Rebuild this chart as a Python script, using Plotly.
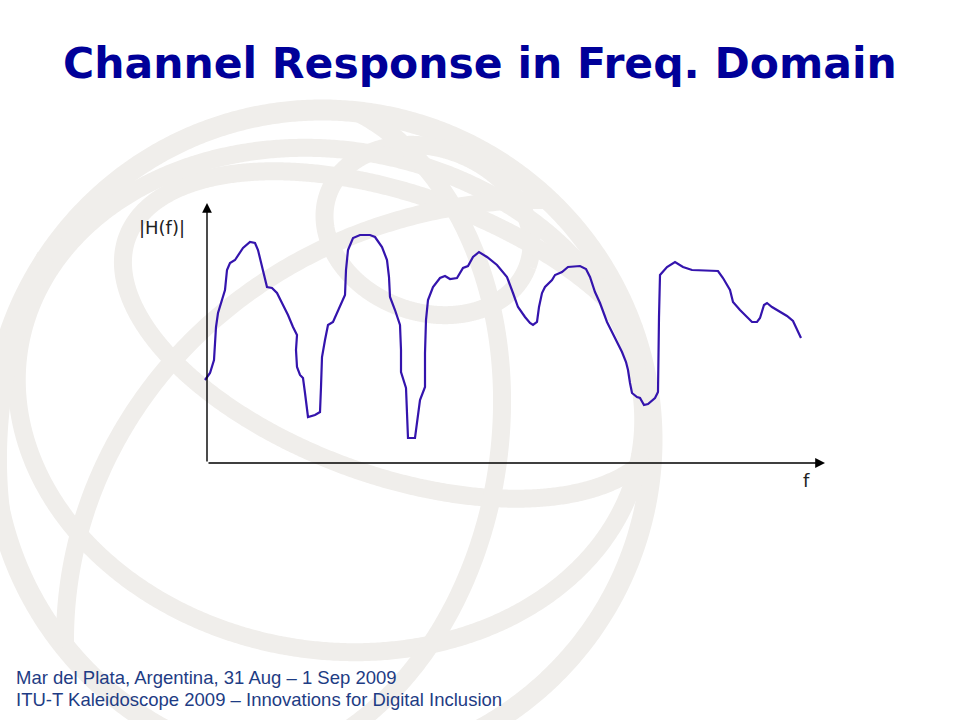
import numpy as np
import plotly.graph_objects as go

W, H = 960, 720

# ---- data (arbitrary units: f along x, |H(f)| along y) ----
f_vals = [-2, 3, 7, 9, 11, 18, 20, 23, 28, 36, 43, 48, 51, 55, 60, 65, 70, 75, 81, 86,
          90, 89, 90, 93, 96, 98, 101, 108, 113, 114, 115, 118, 121, 126, 130, 135, 138, 139, 141, 146,
          153, 163, 168, 175, 180, 182, 183, 188, 193, 194, 194, 199, 201, 208, 210, 213, 218, 218, 219, 221,
          226, 233, 238, 243, 250, 256, 261, 266, 272, 280, 290, 300, 306, 311, 318, 323, 326, 330, 332, 335,
          338, 345, 348, 355, 361, 373, 379, 383, 388, 393, 400, 408, 415, 419, 421, 423, 425, 430, 433, 437,
          441, 448, 451, 452, 453, 460, 468, 476, 485, 511, 516, 523, 526, 533, 540, 545, 550, 553, 557, 560,
          565, 573, 580, 586, 590, 594]
h_vals = [83, 90, 103, 136, 150, 173, 193, 200, 203, 215, 221, 220, 213, 196, 176, 175, 170, 160, 148, 136,
          128, 113, 96, 88, 85, 70, 46, 48, 51, 76, 106, 123, 138, 141, 150, 163, 168, 193, 213, 225,
          228, 228, 226, 216, 203, 186, 166, 153, 138, 113, 91, 75, 25, 25, 41, 63, 76, 110, 143, 163,
          176, 185, 187, 184, 185, 195, 197, 206, 211, 206, 198, 186, 170, 156, 146, 140, 138, 141, 156, 170,
          176, 183, 188, 191, 196, 197, 194, 186, 171, 160, 141, 125, 111, 101, 93, 80, 70, 66, 65, 58,
          59, 65, 71, 146, 188, 196, 201, 196, 193, 192, 185, 173, 161, 153, 146, 141, 141, 145, 158, 160,
          156, 151, 147, 142, 133, 125]

title_text = "Channel Response in Freq. Domain"
y_label = "|H(f)|"
x_label = "f"
footer_lines = ["Mar del Plata, Argentina, 31 Aug \u2013 1 Sep 2009",
                "ITU-T Kaleidoscope 2009 \u2013 Innovations for Digital Inclusion"]

# ---- layout geometry (pixels) ----
X0, Y0 = 207, 463          # axis origin
X_MIN, X_MAX = -10, 620
Y_MIN, Y_MAX = 0, 260

fig = go.Figure()

fig.add_trace(go.Scatter(x=f_vals, y=h_vals, mode="lines",
                         line=dict(color="#3414ad", width=2.2),
                         hoverinfo="skip", showlegend=False))

# ---- background globe decoration ----
BAND = "#f0eeeb"
CX, CY, R = 322, 440, 330


def to_paper(xs, ys):
    return xs / W, 1 - ys / H


def ellipse_path(cx, cy, a, b, rot, clip=True):
    t = np.linspace(0, 2 * np.pi, 900)
    th = np.deg2rad(rot)
    x = cx + a * np.cos(t) * np.cos(th) - b * np.sin(t) * np.sin(th)
    y = cy + a * np.cos(t) * np.sin(th) + b * np.sin(t) * np.cos(th)
    if clip:
        inside = (x - CX) ** 2 + (y - CY) ** 2 <= (R + 2) ** 2
    else:
        inside = np.ones_like(x, dtype=bool)
    px, py = to_paper(x, y)
    parts = []
    started = False
    for i in range(len(x)):
        if inside[i]:
            parts.append(("L" if started else "M") + f"{px[i]:.5f},{py[i]:.5f}")
            started = True
        else:
            started = False
    return " ".join(parts)


shapes = []
ellipses = [
    (CX, CY, R, R, 0, False, 21),
    (428, 230, 106, 82, 20, True, 18),
    (395, 335, 285, 140, 20, True, 18),
    (330, 400, 315, 250, 10, True, 18),
    (250, 430, 250, 340, 8, True, 18),
    (540, 640, 475, 440, 0, True, 18),
]
for cx, cy, a, b, rot, clip, w in ellipses:
    shapes.append(dict(type="path", path=ellipse_path(cx, cy, a, b, rot, clip),
                       xref="paper", yref="paper", layer="below",
                       line=dict(color=BAND, width=w)))

annotations = []
# axes with arrowheads
annotations.append(dict(x=618, y=0, ax=0, ay=0, xref="x", yref="y", axref="x", ayref="y",
                        text="", showarrow=True, arrowhead=2, arrowsize=1.4,
                        arrowwidth=1.4, arrowcolor="#000000"))
annotations.append(dict(x=0, y=260, ax=0, ay=0, xref="x", yref="y", axref="x", ayref="y",
                        text="", showarrow=True, arrowhead=2, arrowsize=1.4,
                        arrowwidth=1.4, arrowcolor="#000000"))
annotations.append(dict(x=162 / W, y=1 - 227 / H, xref="paper", yref="paper",
                        xanchor="center", yanchor="middle",
                        text=y_label, showarrow=False,
                        font=dict(family="DejaVu Sans", size=18, color="#222222")))
annotations.append(dict(x=806 / W, y=1 - 481 / H, xref="paper", yref="paper",
                        xanchor="center", yanchor="middle",
                        text=x_label, showarrow=False,
                        font=dict(family="DejaVu Sans", size=18, color="#222222")))
annotations.append(dict(x=0.5, y=1 - 63 / H, xref="paper", yref="paper",
                        xanchor="center", yanchor="middle",
                        text="<b>" + title_text + "</b>", showarrow=False,
                        font=dict(family="DejaVu Sans", size=42.5, color="#000099")))
for i, line in enumerate(footer_lines):
    annotations.append(dict(x=14 / W, y=1 - (677 + 22 * i) / H, xref="paper", yref="paper",
                            xanchor="left", yanchor="middle", text=line, showarrow=False,
                            font=dict(family="Liberation Sans", size=18.5, color="#1e3c84")))

fig.update_layout(
    width=W, height=H,
    margin=dict(l=0, r=0, t=0, b=0),
    paper_bgcolor="white", plot_bgcolor="rgba(0,0,0,0)",
    xaxis=dict(domain=[(X0 + X_MIN) / W, (X0 + X_MAX) / W], range=[X_MIN, X_MAX],
               visible=False, fixedrange=True),
    yaxis=dict(domain=[(H - Y0) / H, (H - Y0 + Y_MAX) / H], range=[Y_MIN, Y_MAX],
               visible=False, fixedrange=True),
    shapes=shapes,
    annotations=annotations,
    showlegend=False,
)

fig.write_html("out.html", config={"displayModeBar": False},
               post_script="document.body.style.margin='0px';document.body.style.overflow='hidden';")
